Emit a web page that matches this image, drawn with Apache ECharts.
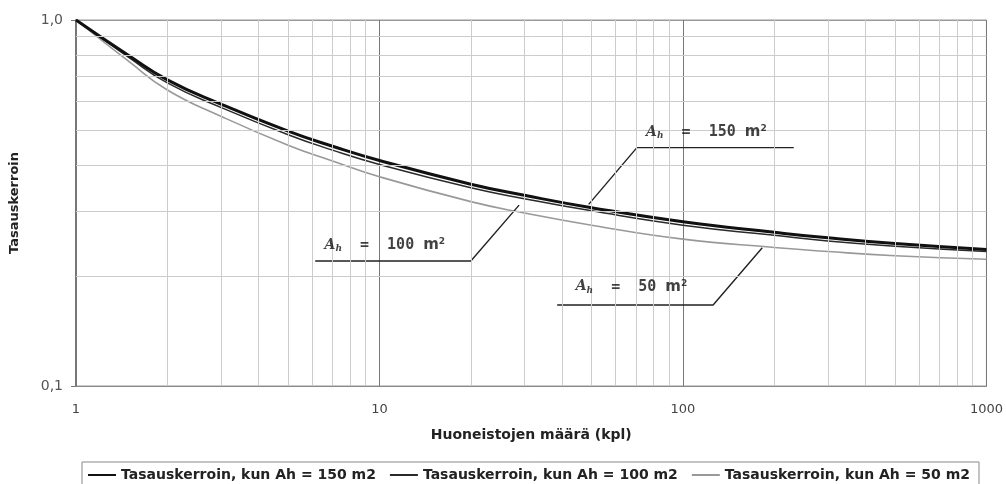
<!DOCTYPE html>
<html><head><meta charset="utf-8">
<script src="https://cdn.jsdelivr.net/npm/echarts@6/dist/echarts.min.js"></script>
<style>html,body{margin:0;padding:0;background:#fff}#c{width:1006px;height:484px}</style>
</head><body><div id="c"></div>
<script>
// ---- data ----
const xValues = [1, 1.5, 2, 3, 5, 7, 10, 20, 30, 50, 100, 200, 300, 500, 1000];
const ah150 = [1.0, 0.797, 0.686, 0.589, 0.497, 0.452, 0.413, 0.356, 0.332, 0.307, 0.281, 0.263, 0.254, 0.245, 0.236];
const ah100 = [1.0, 0.788, 0.673, 0.577, 0.486, 0.441, 0.403, 0.348, 0.325, 0.301, 0.275, 0.258, 0.249, 0.241, 0.233];
const ah50  = [1.0, 0.768, 0.644, 0.546, 0.455, 0.412, 0.373, 0.319, 0.297, 0.275, 0.252, 0.239, 0.233, 0.227, 0.222];
const seriesNames = [
  'Tasauskerroin, kun Ah = 150 m2',
  'Tasauskerroin, kun Ah = 100 m2',
  'Tasauskerroin, kun Ah = 50 m2'
];
const xTickLabels = ['1', '10', '100', '1000'];
const yTickLabels = ['0,1', '1,0'];
const xMinorGrid = [2, 3, 4, 5, 6, 7, 8, 9, 20, 30, 40, 50, 60, 70, 80, 90, 200, 300, 400, 500, 600, 700, 800, 900];
const yMinorGrid = [0.2, 0.3, 0.4, 0.5, 0.6, 0.7, 0.8, 0.9];
// annotation leader lines (data coordinates): curve point -> underline start -> underline end
const note150Leader = [[48.9, 0.3135], [70.5, 0.448], [231.7, 0.448]];
const note100Leader = [[28.84, 0.312], [20.0, 0.2196], [6.14, 0.2196]];
const note50Leader  = [[182.5, 0.2387], [125.7, 0.1665], [38.5, 0.1665]];
const noteAreas = ['150', '100', '50'];
const noteAnchors = [[75.6, 0.494], [6.59, 0.2428], [44.3, 0.1867]];

const pair = (xs, ys) => xs.map((x, i) => [x, ys[i]]);
const FONT = 'DejaVu Sans';
const INK = '#111';

const chart = echarts.init(document.getElementById('c'), null, {renderer: 'canvas'});

const leaderSeries = [note150Leader, note100Leader, note50Leader].map(d => ({
  type: 'line', data: d, symbol: 'none', silent: true, z: 4,
  lineStyle: {color: '#222', width: 1.4}, animation: false
}));

const curve = (name, ys, color, width) => ({
  type: 'line', name, data: pair(xValues, ys), smooth: true,
  symbol: 'none', z: 3, lineStyle: {color, width}, itemStyle: {color}
});

chart.setOption({
  animation: false,
  backgroundColor: '#fff',
  grid: {left: 73, right: 18, top: 20, bottom: 98, show: true, borderColor: '#999', borderWidth: 1},
  xAxis: {
    type: 'log', logBase: 10, min: 1, max: 1000,
    name: 'Huoneistojen määrä (kpl)', nameLocation: 'middle', nameGap: 42,
    nameTextStyle: {fontFamily: FONT, fontWeight: 'bold', fontSize: 14, color: '#222'},
    axisLine: {lineStyle: {color: '#888', width: 1}},
    axisTick: {show: false},
    axisLabel: {margin: 17, color: '#444', fontFamily: FONT, fontSize: 13,
      formatter: v => xTickLabels[Math.round(Math.log10(v))]},
    splitLine: {show: true, lineStyle: {color: '#777', width: 1}}
  },
  yAxis: {
    type: 'log', logBase: 10, min: 0.1, max: 1,
    name: 'Tasauskerroin', nameLocation: 'middle', nameRotate: 90, nameGap: 55,
    nameTextStyle: {fontFamily: FONT, fontWeight: 'bold', fontSize: 13, color: '#222'},
    axisLine: {show: true, lineStyle: {color: '#777', width: 2}},
    axisTick: {show: true, length: 5, lineStyle: {color: '#777'}},
    axisLabel: {margin: 13, color: '#555', fontFamily: FONT, fontSize: 14, padding: [4, 0, 0, 0],
      formatter: v => yTickLabels[Math.round(Math.log10(v)) + 1]},
    splitLine: {show: true, lineStyle: {color: '#999'}}
  },
  legend: {
    data: seriesNames,
    left: 82, top: 462,
    padding: [6, 9, 6, 5],
    itemWidth: 28, itemHeight: 14, itemGap: 13,
    itemStyle: {opacity: 0},
    borderColor: '#888', borderWidth: 1,
    textStyle: {fontFamily: FONT, fontWeight: 'bold', fontSize: 14, color: '#222'}
  },
  series: [
    {
      type: 'line', name: 'grid', data: [[1, 0.1]], symbol: 'none', silent: true, z: 1,
      lineStyle: {opacity: 0},
      markLine: {
        silent: true, symbol: 'none', label: {show: false}, animation: false,
        lineStyle: {color: '#ccc', width: 1, type: 'solid'},
        data: xMinorGrid.map(v => ({xAxis: v})).concat(yMinorGrid.map(v => ({yAxis: v})))
      }
    },
    curve(seriesNames[2], ah50, '#999', 1.6),
    curve(seriesNames[1], ah100, '#2a2a2a', 1.5),
    curve(seriesNames[0], ah150, '#111', 3),
    ...leaderSeries,
    {
      type: 'scatter', silent: true, z: 5, symbolSize: 0,
      data: noteAnchors.map((p, i) => ({value: p, name: noteAreas[i]})),
      label: {
        show: true, position: 'right', distance: 0,
        formatter: p => `{a|A}{h|h}{t|  =  ${p.name} }{m|m}{s|2}`,
        rich: {
          a: {fontFamily: 'DejaVu Serif', fontStyle: 'italic', fontWeight: 'bold', fontSize: 14, lineHeight: 16, color: INK},
          h: {fontFamily: 'DejaVu Serif', fontStyle: 'italic', fontWeight: 'bold', fontSize: 9, lineHeight: 9, verticalAlign: 'bottom', color: INK},
          t: {fontFamily: 'DejaVu Sans Mono', fontWeight: 'bold', fontSize: 15, lineHeight: 16, color: INK},
          m: {fontFamily: FONT, fontWeight: 'bold', fontSize: 15, lineHeight: 16, color: INK},
          s: {fontFamily: FONT, fontWeight: 'bold', fontSize: 9, lineHeight: 9, verticalAlign: 'top', color: INK}
        }
      }
    }
  ]
});
</script></body></html>
